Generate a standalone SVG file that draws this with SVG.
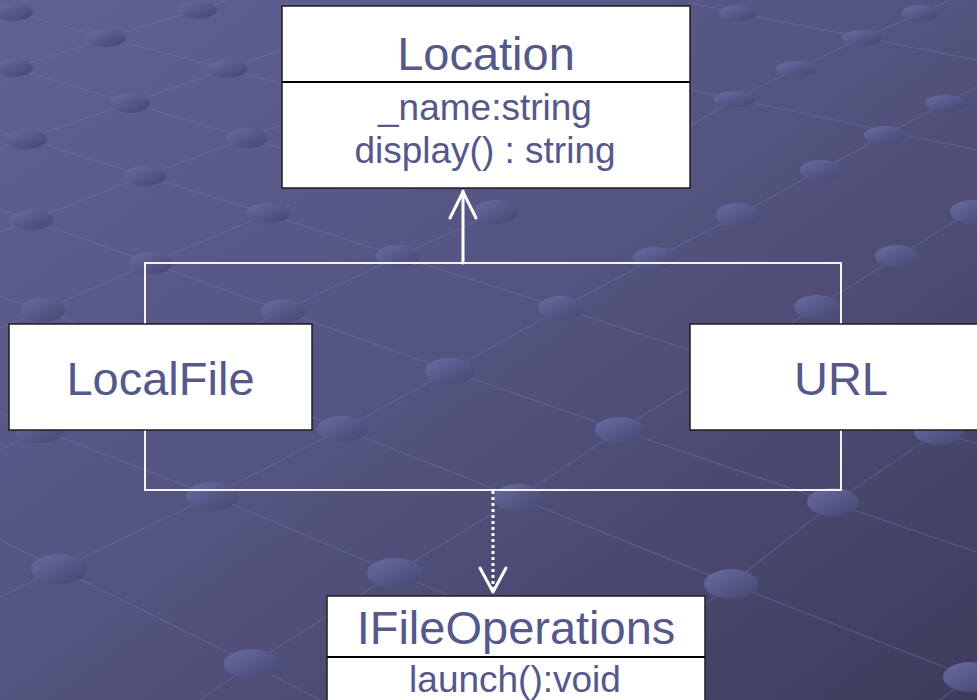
<svg xmlns="http://www.w3.org/2000/svg" width="977" height="700" viewBox="0 0 977 700">
  <defs>
    <linearGradient id="bg" x1="0" y1="0" x2="1" y2="1">
      <stop offset="0" stop-color="#5f6195"/>
      <stop offset="0.5" stop-color="#53537f"/>
      <stop offset="1" stop-color="#3d3c5c"/>
    </linearGradient>
    <linearGradient id="dotg" x1="0" y1="0" x2="1" y2="1">
      <stop offset="0" stop-color="#6a6ca3"/>
      <stop offset="1" stop-color="#45456f"/>
    </linearGradient>
    <style>
      .grid { fill: none; stroke: #7072a8; stroke-opacity: 0.38; stroke-width: 1.5; }
      .dot { fill: url(#dotg); }
      .box { fill: #ffffff; stroke: #1e1e1e; stroke-width: 1.5; }
      .div { stroke: #000000; stroke-width: 2; }
      .t { font-family: "Liberation Sans", Arial, sans-serif; fill: #555889; text-anchor: middle; }
      .big { font-size: 47px; }
      .small { font-size: 37px; }
      .conn { fill: none; stroke: #f2f2f7; stroke-width: 2; }
      .arr { fill: none; stroke: #ffffff; stroke-width: 3; stroke-linecap: round; stroke-linejoin: round; }
    </style>
  </defs>

  <g id="background">
    <rect x="0" y="0" width="977" height="700" fill="url(#bg)"/>
    <g class="grid">
      <polyline points="0,9 13,12 106,38 227,69 300,89"/>
      <polyline points="0,64 13,68 130,103 247,138 300,154"/>
      <polyline points="0,131 26,139 145,176 267,214 398,256 561,308 940,432 977,444"/>
      <polyline points="0,209 31,220 151,263 283,311 450,371 620,430 833,503 977,552"/>
      <polyline points="0,297 43,310 342,429 518,498 731,584 970,677 977,680"/>
      <polyline points="0,413 42,430 212,496 395,573 700,700"/>
      <polyline points="0,540 59,569 252,664 320,700"/>
      <polyline points="690,3 738,13 977,60"/>
      <polyline points="690,90 735,99 977,150"/>
      <polyline points="13,68 106,38 197,10 230,0"/>
      <polyline points="0,148 26,139 130,103 227,69 290,47"/>
      <polyline points="0,232 31,220 145,176 247,138 290,122"/>
      <polyline points="0,328 43,310 151,263 270,213 290,205"/>
      <polyline points="0,450 40,430 283,311 397,257 496,212"/>
      <polyline points="690,126 735,99 796,69 862,38 921,13 950,0"/>
      <polyline points="0,597 59,569 212,496 342,429 450,371 561,308 655,258 738,215 821,170 885,135 946,103 977,87"/>
      <polyline points="200,700 252,664 395,573 518,498 620,430 817,307 897,257 970,212 977,208"/>
      <polyline points="560,720 731,584 833,503 938,432 977,405"/>
      <polyline points="940,700 970,677 977,671"/>
    </g>
    <g>
      <ellipse class="dot" cx="13" cy="12" rx="20" ry="9"/>
      <ellipse class="dot" cx="197" cy="10" rx="20" ry="9"/>
      <ellipse class="dot" cx="106" cy="38" rx="20" ry="9"/>
      <ellipse class="dot" cx="13" cy="68" rx="20" ry="9"/>
      <ellipse class="dot" cx="227" cy="69" rx="20" ry="9"/>
      <ellipse class="dot" cx="130" cy="103" rx="20" ry="10"/>
      <ellipse class="dot" cx="26" cy="139" rx="21" ry="10"/>
      <ellipse class="dot" cx="247" cy="138" rx="21" ry="10"/>
      <ellipse class="dot" cx="145" cy="176" rx="21" ry="10"/>
      <ellipse class="dot" cx="31" cy="220" rx="22" ry="10"/>
      <ellipse class="dot" cx="268" cy="213" rx="22" ry="10"/>
      <ellipse class="dot" cx="738" cy="13" rx="19" ry="8"/>
      <ellipse class="dot" cx="921" cy="13" rx="19" ry="8"/>
      <ellipse class="dot" cx="862" cy="38" rx="20" ry="8"/>
      <ellipse class="dot" cx="796" cy="69" rx="20" ry="8"/>
      <ellipse class="dot" cx="735" cy="99" rx="21" ry="8"/>
      <ellipse class="dot" cx="946" cy="103" rx="21" ry="8"/>
      <ellipse class="dot" cx="885" cy="135" rx="21" ry="9"/>
      <ellipse class="dot" cx="821" cy="170" rx="21" ry="10"/>
      <ellipse class="dot" cx="738" cy="215" rx="22" ry="12"/>
      <ellipse class="dot" cx="972" cy="212" rx="22" ry="12"/>
      <ellipse class="dot" cx="897" cy="256" rx="22" ry="11"/>
      <ellipse class="dot" cx="496" cy="212" rx="22" ry="12"/>
      <ellipse class="dot" cx="398" cy="256" rx="22" ry="11"/>
      <ellipse class="dot" cx="655" cy="258" rx="22" ry="11"/>
      <ellipse class="dot" cx="151" cy="263" rx="22" ry="11"/>
      <ellipse class="dot" cx="43" cy="310" rx="22" ry="12"/>
      <ellipse class="dot" cx="283" cy="311" rx="22" ry="12"/>
      <ellipse class="dot" cx="561" cy="308" rx="23" ry="12"/>
      <ellipse class="dot" cx="817" cy="307" rx="23" ry="12"/>
      <ellipse class="dot" cx="450" cy="371" rx="25" ry="13"/>
      <ellipse class="dot" cx="342" cy="429" rx="25" ry="13"/>
      <ellipse class="dot" cx="40" cy="430" rx="24" ry="13"/>
      <ellipse class="dot" cx="620" cy="430" rx="25" ry="13"/>
      <ellipse class="dot" cx="939" cy="432" rx="25" ry="13"/>
      <ellipse class="dot" cx="212" cy="496" rx="26" ry="14"/>
      <ellipse class="dot" cx="518" cy="498" rx="24" ry="14"/>
      <ellipse class="dot" cx="833" cy="502" rx="26" ry="14"/>
      <ellipse class="dot" cx="59" cy="569" rx="28" ry="15"/>
      <ellipse class="dot" cx="395" cy="573" rx="28" ry="15"/>
      <ellipse class="dot" cx="731" cy="584" rx="27" ry="15"/>
      <ellipse class="dot" cx="252" cy="664" rx="28" ry="15"/>
      <ellipse class="dot" cx="970" cy="677" rx="27" ry="15"/>
    </g>
  </g>

  <g id="connectors">
    <rect class="conn" x="145" y="263" width="696" height="227"/>
    <line class="arr" x1="463" y1="263" x2="463" y2="191" stroke-linecap="butt"/>
    <polyline class="arr" points="450,218 463,192 476,218"/>
    <line x1="493" y1="491" x2="493" y2="590" stroke="#ffffff" stroke-width="3" stroke-dasharray="3 3"/>
    <polyline class="arr" points="480,568 493,592 506,568"/>
  </g>

  <g id="node-location">
    <rect class="box" x="282" y="6" width="408" height="182"/>
    <line class="div" x1="282" y1="82" x2="690" y2="82"/>
    <text class="t big" x="486" y="70">Location</text>
    <text class="t small" x="485" y="120">_name:string</text>
    <text class="t small" x="485" y="163">display() : string</text>
  </g>

  <g id="node-localfile">
    <rect class="box" x="9" y="324" width="303" height="106"/>
    <text class="t big" x="160.5" y="395">LocalFile</text>
  </g>

  <g id="node-url">
    <rect class="box" x="690" y="324" width="303" height="106"/>
    <text class="t big" x="841" y="395">URL</text>
  </g>

  <g id="node-ifileoperations">
    <rect class="box" x="327" y="596" width="378" height="120"/>
    <line class="div" x1="327" y1="657" x2="705" y2="657"/>
    <text class="t big" x="516" y="644">IFileOperations</text>
    <text class="t small" x="515" y="692">launch():void</text>
  </g>
</svg>
